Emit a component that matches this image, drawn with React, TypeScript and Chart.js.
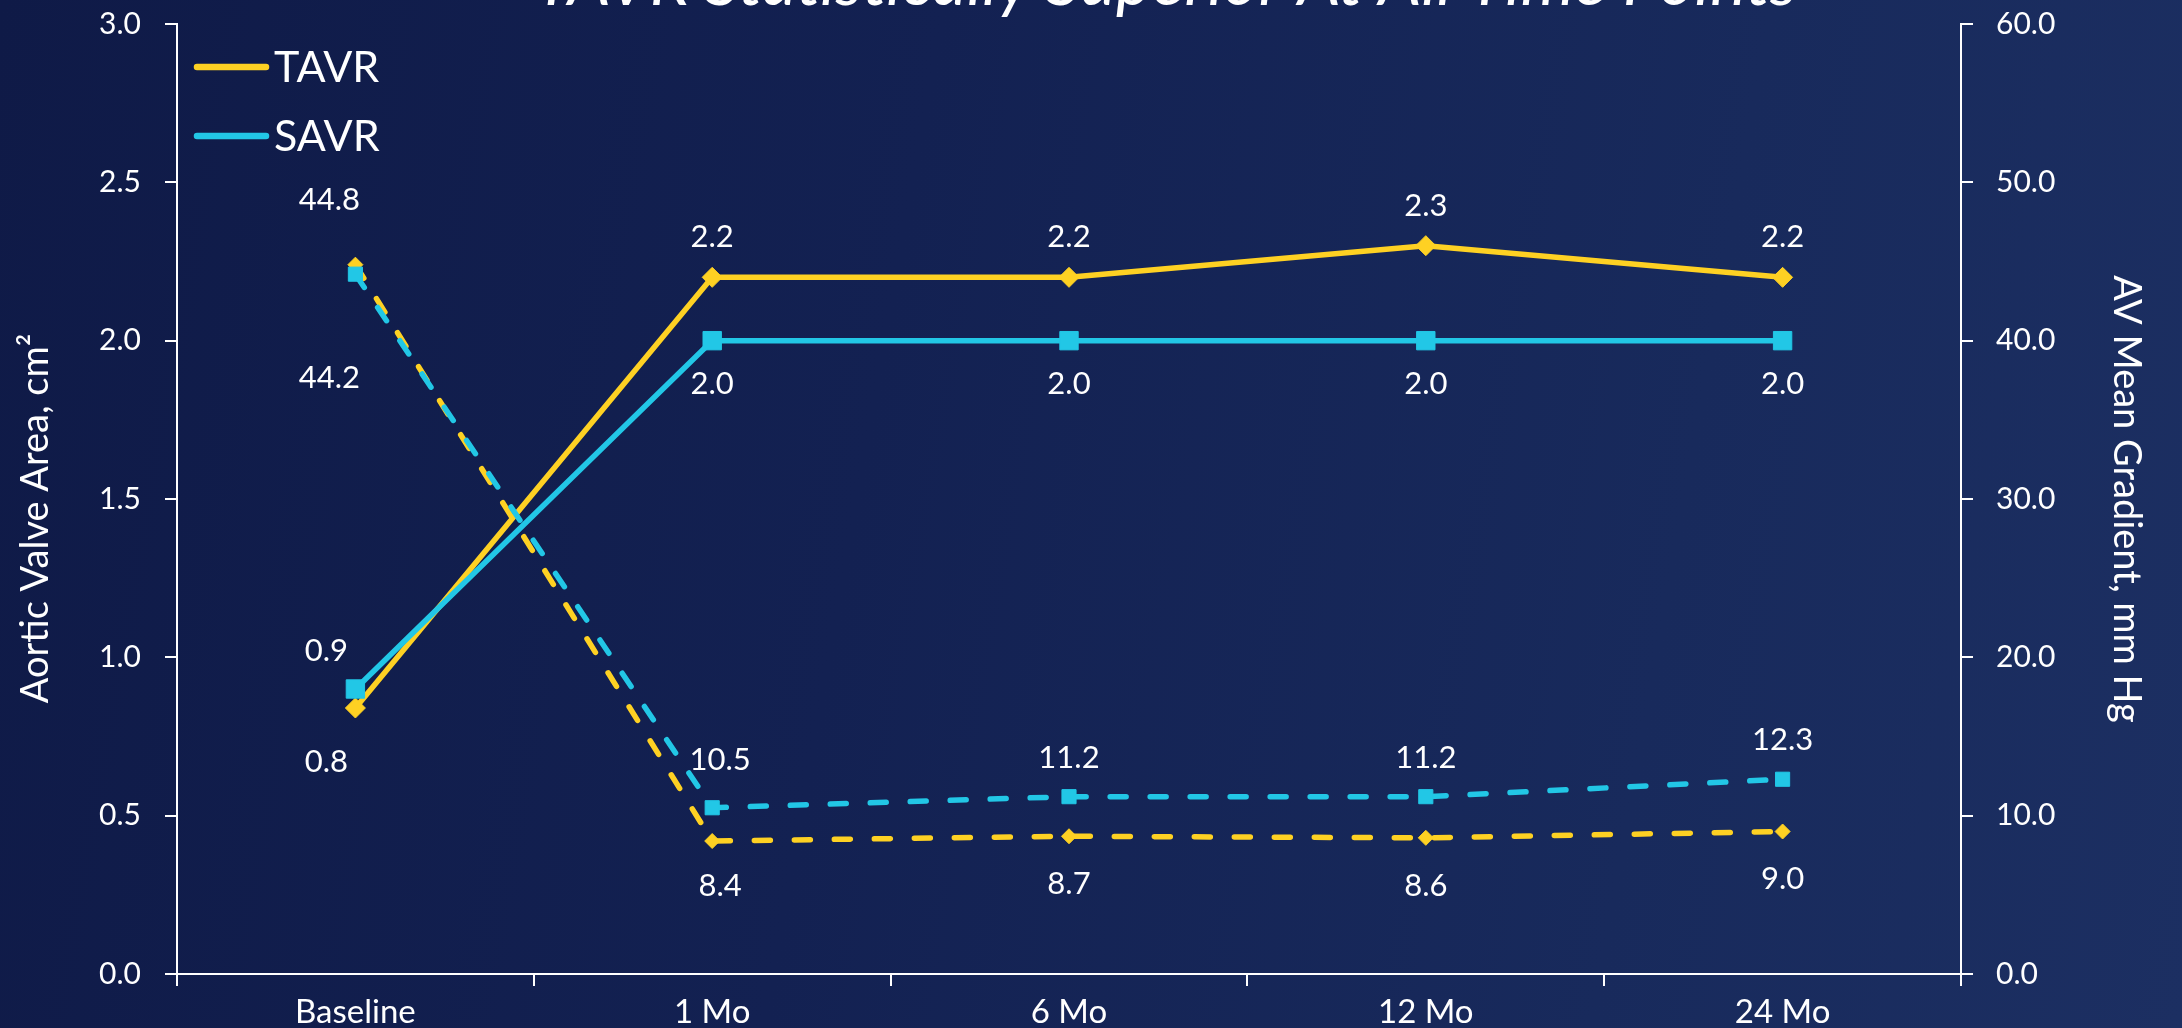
import { useEffect, useRef } from "react";
import { Chart, registerables } from "chart.js";

Chart.register(...registerables);

// ---- data ----
const timePoints = ["Baseline", "1 Mo", "6 Mo", "12 Mo", "24 Mo"];
const tavrValveArea = [0.84, 2.2, 2.2, 2.3, 2.2];
const savrValveArea = [0.9, 2.0, 2.0, 2.0, 2.0];
const tavrMeanGradient = [44.8, 8.4, 8.7, 8.6, 9.0];
const savrMeanGradient = [44.2, 10.5, 11.2, 11.2, 12.3];
const areaTickValues = [0, 0.5, 1.0, 1.5, 2.0, 2.5, 3.0];
const gradientTickValues = [0, 10, 20, 30, 40, 50, 60];
const seriesNames = ["TAVR", "SAVR"];
const chartTitle = "TAVR Statistically Superior At All Time Points";
const areaAxisTitle = "Aortic Valve Area, cm\u00B2    ";
const gradientAxisTitle = "AV Mean Gradient, mm Hg";

// ---- styling ----
const TAVR_COLOR = "#FED123";
const SAVR_COLOR = "#22C7E6";
const FONT = "Lato, 'Open Sans', sans-serif";
const LINE_WIDTH = 5.5;

// value-label placement (dx, dy in px from each point)
const tavrAreaLabelShift = [[-29, 54], [0, -40], [0, -40], [0, -40], [0, -40]];
const savrAreaLabelShift = [[-29, -38], [0, 43], [0, 43], [0, 43], [0, 43]];
const tavrGradientLabelShift = [[-26, -65], [8, 45], [0, 48], [0, 48], [0, 47]];
const savrGradientLabelShift = [[-26, 104], [8, -48], [0, -39], [0, -39], [0, -39]];

const valueLabels = {
  id: "valueLabels",
  afterDatasetsDraw(chart: any) {
    const { ctx } = chart;
    ctx.save();
    ctx.fillStyle = "#ffffff";
    ctx.font = `31px ${FONT}`;
    ctx.textAlign = "center";
    ctx.textBaseline = "middle";
    chart.data.datasets.forEach((ds: any, i: number) => {
      const meta = chart.getDatasetMeta(i);
      meta.data.forEach((pt: any, j: number) => {
        const [dx, dy] = ds.labelShift[j];
        ctx.fillText(Number(ds.data[j]).toFixed(1), pt.x + dx, pt.y + dy);
      });
    });
    ctx.restore();
  },
};

const seriesLegend = {
  id: "seriesLegend",
  afterDatasetsDraw(chart: any) {
    const { ctx, chartArea } = chart;
    ctx.save();
    const entries = chart.data.datasets.filter((d: any) => d.inLegend);
    entries.forEach((d: any, i: number) => {
      const y = chartArea.top + 43 + i * 69;
      const x0 = chartArea.left + 20;
      ctx.strokeStyle = d.borderColor;
      ctx.lineWidth = 6.5;
      ctx.lineCap = "round";
      ctx.beginPath();
      ctx.moveTo(x0, y);
      ctx.lineTo(x0 + 69, y);
      ctx.stroke();
      ctx.fillStyle = "#ffffff";
      ctx.font = `43px ${FONT}`;
      ctx.textAlign = "left";
      ctx.textBaseline = "middle";
      ctx.fillText(d.label, x0 + 77, y + 1);
    });
    ctx.restore();
  },
};

const headline = {
  id: "headline",
  afterDraw(chart: any) {
    const { ctx } = chart;
    ctx.save();
    ctx.fillStyle = "#ffffff";
    ctx.font = `italic 68px ${FONT}`;
    ctx.textAlign = "center";
    ctx.textBaseline = "alphabetic";
    ctx.fillText(chartTitle, 1166, 5);
    ctx.restore();
  },
};

// keep the value axes from reserving extra room above/below the plot
const trimVerticalPadding = (s: any, width: number) => {
  s.width = width;
  s.paddingTop = 0;
  s.paddingBottom = 0;
};

export default function App() {
  const canvasRef = useRef<HTMLCanvasElement | null>(null);

  useEffect(() => {
    const canvas = canvasRef.current;
    if (!canvas) return;

    const whiteGrid = {
      display: true,
      drawOnChartArea: false,
      drawTicks: true,
      tickLength: 12,
      color: "#ffffff",
      lineWidth: 2,
    };
    const whiteBorder = { display: true, color: "#ffffff", width: 2 };

    const chart = new Chart(canvas, {
      type: "line",
      data: {
        labels: timePoints,
        datasets: [
          {
            label: seriesNames[0],
            data: tavrValveArea,
            yAxisID: "y",
            borderColor: TAVR_COLOR,
            backgroundColor: TAVR_COLOR,
            borderWidth: LINE_WIDTH,
            borderJoinStyle: "round",
            pointStyle: "rectRot",
            pointRadius: 10,
            pointBorderWidth: 1,
            pointBorderColor: TAVR_COLOR,
            pointBackgroundColor: TAVR_COLOR,
            order: 3,
            inLegend: true,
            labelShift: tavrAreaLabelShift,
          },
          {
            label: seriesNames[1],
            data: savrValveArea,
            yAxisID: "y",
            borderColor: SAVR_COLOR,
            backgroundColor: SAVR_COLOR,
            borderWidth: LINE_WIDTH,
            borderJoinStyle: "round",
            pointStyle: "rect",
            pointRadius: 13,
            pointBorderWidth: 1,
            pointBorderColor: SAVR_COLOR,
            pointBackgroundColor: SAVR_COLOR,
            order: 2,
            inLegend: true,
            labelShift: savrAreaLabelShift,
          },
          {
            label: seriesNames[0] + " gradient",
            data: tavrMeanGradient,
            yAxisID: "y1",
            borderColor: TAVR_COLOR,
            backgroundColor: TAVR_COLOR,
            borderWidth: LINE_WIDTH,
            borderDash: [16, 24],
            borderCapStyle: "round",
            pointStyle: "rectRot",
            pointRadius: 7.5,
            pointBorderWidth: 1,
            pointBorderColor: TAVR_COLOR,
            pointBackgroundColor: TAVR_COLOR,
            order: 1,
            inLegend: false,
            labelShift: tavrGradientLabelShift,
          },
          {
            label: seriesNames[1] + " gradient",
            data: savrMeanGradient,
            yAxisID: "y1",
            borderColor: SAVR_COLOR,
            backgroundColor: SAVR_COLOR,
            borderWidth: LINE_WIDTH,
            borderDash: [16, 24],
            borderCapStyle: "round",
            pointStyle: "rect",
            pointRadius: 10,
            pointBorderWidth: 1,
            pointBorderColor: SAVR_COLOR,
            pointBackgroundColor: SAVR_COLOR,
            order: 0,
            inLegend: false,
            labelShift: savrGradientLabelShift,
          },
        ] as any,
      },
      options: {
        responsive: false,
        devicePixelRatio: 1,
        animation: false,
        layout: { padding: { top: 24, left: 0, right: 0, bottom: 0 } },
        plugins: {
          legend: { display: false },
          tooltip: { enabled: false },
          title: { display: false },
        },
        elements: { line: { tension: 0 } },
        scales: {
          x: {
            type: "category",
            offset: true,
            grid: { ...whiteGrid, offset: true },
            border: whiteBorder,
            ticks: {
              color: "#ffffff",
              font: { family: FONT, size: 33 },
              padding: 7,
              maxRotation: 0,
            },
            afterFit: (s: any) => {
              s.height = 54;
            },
          },
          y: {
            type: "linear",
            position: "left",
            min: areaTickValues[0],
            max: areaTickValues[areaTickValues.length - 1],
            grid: whiteGrid,
            border: whiteBorder,
            afterBuildTicks: (s: any) => {
              s.ticks = areaTickValues.map((v) => ({ value: v }));
            },
            ticks: {
              color: "#ffffff",
              font: { family: FONT, size: 30 },
              padding: 24,
              callback: (v: any) => Number(v).toFixed(1),
            },
            title: {
              display: true,
              text: areaAxisTitle,
              color: "#ffffff",
              font: { family: FONT, size: 38 },
              padding: { top: 13, bottom: 0 },
            },
            afterFit: (s: any) => trimVerticalPadding(s, 177),
          },
          y1: {
            type: "linear",
            position: "right",
            min: gradientTickValues[0],
            max: gradientTickValues[gradientTickValues.length - 1],
            grid: whiteGrid,
            border: whiteBorder,
            afterBuildTicks: (s: any) => {
              s.ticks = gradientTickValues.map((v) => ({ value: v }));
            },
            ticks: {
              color: "#ffffff",
              font: { family: FONT, size: 30 },
              padding: 23,
              callback: (v: any) => Number(v).toFixed(1),
            },
            title: {
              display: true,
              text: gradientAxisTitle,
              color: "#ffffff",
              font: { family: FONT, size: 38 },
              padding: { top: 33, bottom: 0 },
            },
            afterFit: (s: any) => trimVerticalPadding(s, 221),
          },
        },
      } as any,
      plugins: [valueLabels, seriesLegend, headline],
    });

    return () => chart.destroy();
  }, []);

  return (
    <div
      style={{
        position: "fixed",
        left: 0,
        top: 0,
        width: 2182,
        height: 1028,
        overflow: "hidden",
        background:
          "linear-gradient(100deg, #0f1a47 0%, #132152 40%, #182a5c 75%, #1c2f62 100%)",
      }}
    >
      <canvas
        ref={canvasRef}
        width={2182}
        height={1028}
        style={{ display: "block", width: 2182, height: 1028 }}
      />
    </div>
  );
}
